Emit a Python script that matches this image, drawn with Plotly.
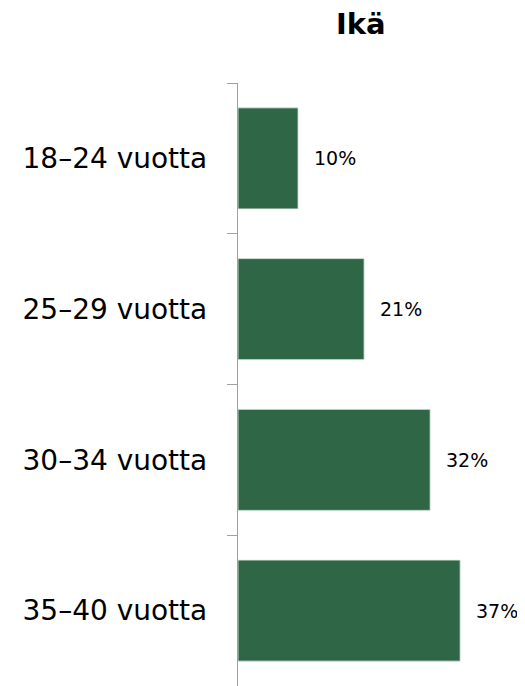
import plotly.graph_objects as go

categories = ["18–24 vuotta", "25–29 vuotta", "30–34 vuotta", "35–40 vuotta"]
values = [10, 21, 32, 37]
labels = ["10%", "21%", "32%", "37%"]
title = "Ikä"

bar_color = "#2E6646"
axis_color = "#A0A0A0"
font_family = "DejaVu Sans"

W, H = 517, 678
ML, MT = 230, 75
plot_h = H - MT

fig = go.Figure()
fig.add_trace(go.Bar(
    x=values, y=categories, orientation="h",
    marker=dict(color=bar_color, line=dict(color="#DDE8E0", width=0.8)),
    hoverinfo="skip",
))

for c, v, t in zip(categories, values, labels):
    fig.add_annotation(
        x=v, y=c, text=t, showarrow=False, xanchor="left", yanchor="middle",
        xshift=14, font=dict(family=font_family, size=19, color="#000000"),
    )

fig.add_annotation(
    x=(361 - 8 - ML) / (W - ML), y=1 + (MT - 16) / plot_h,
    xref="paper", yref="paper", text="<b>" + title + "</b>",
    showarrow=False, xanchor="center", yanchor="middle",
    font=dict(family=font_family, size=29, color="#000000"),
)

fig.update_layout(
    width=W, height=H,
    margin=dict(l=ML, r=0, t=MT, b=0),
    paper_bgcolor="white", plot_bgcolor="white",
    bargap=0.33,
    showlegend=False,
    xaxis=dict(range=[0, 47.8], visible=False, fixedrange=True),
    yaxis=dict(
        autorange="reversed",
        showline=True, linecolor=axis_color, linewidth=1.3,
        ticks="outside", ticklen=10, tickcolor=axis_color, tickwidth=1.3,
        tickson="boundaries",
        ticklabelstandoff=24,
        tickfont=dict(family=font_family, size=28, color="#000000"),
        showgrid=False, zeroline=False,
    ),
)

fig.write_html("out.html")
